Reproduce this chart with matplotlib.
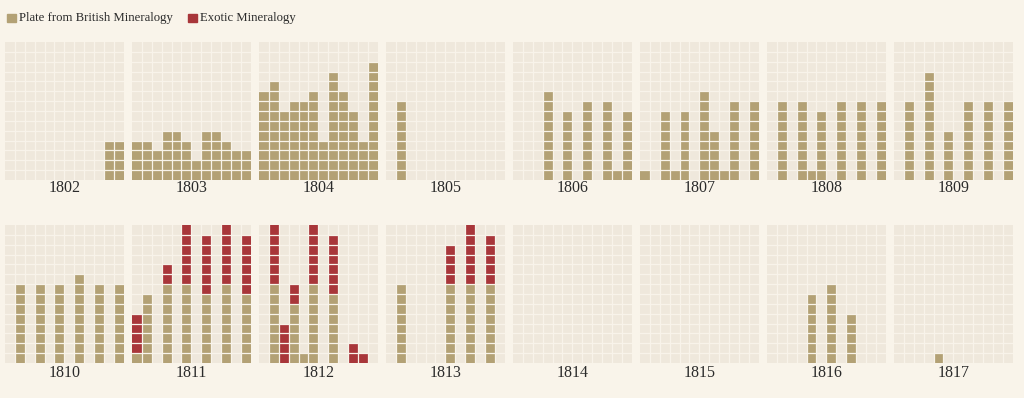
import matplotlib
matplotlib.use("Agg")
import matplotlib.pyplot as plt
from matplotlib.patches import Rectangle

years = list(range(1802, 1818))
months = list(range(12))

british_counts = [
    [0, 0, 0, 0, 0, 0, 0, 0, 0, 0, 4, 4],      # 1802
    [4, 4, 3, 5, 5, 4, 2, 5, 5, 4, 3, 3],      # 1803
    [9, 10, 7, 8, 8, 9, 4, 11, 9, 7, 4, 12],   # 1804
    [0, 8, 0, 0, 0, 0, 0, 0, 0, 0, 0, 0],      # 1805
    [0, 0, 0, 9, 0, 7, 0, 8, 0, 8, 1, 7],      # 1806
    [1, 0, 7, 1, 7, 0, 9, 5, 1, 8, 0, 8],      # 1807
    [0, 8, 0, 8, 1, 7, 0, 8, 0, 8, 0, 8],      # 1808
    [0, 8, 0, 11, 0, 5, 0, 8, 0, 8, 0, 8],     # 1809
    [0, 8, 0, 8, 0, 8, 0, 9, 0, 8, 0, 8],      # 1810
    [1, 7, 0, 8, 0, 8, 0, 7, 0, 8, 0, 7],      # 1811
    [0, 8, 0, 6, 1, 8, 0, 7, 0, 0, 0, 0],      # 1812
    [0, 8, 0, 0, 0, 0, 8, 0, 8, 0, 8, 0],      # 1813
    [0, 0, 0, 0, 0, 0, 0, 0, 0, 0, 0, 0],      # 1814
    [0, 0, 0, 0, 0, 0, 0, 0, 0, 0, 0, 0],      # 1815
    [0, 0, 0, 0, 7, 0, 8, 0, 5, 0, 0, 0],      # 1816
    [0, 0, 0, 0, 1, 0, 0, 0, 0, 0, 0, 0],      # 1817
]

exotic_counts = [
    [0] * 12,                                   # 1802
    [0] * 12,                                   # 1803
    [0] * 12,                                   # 1804
    [0] * 12,                                   # 1805
    [0] * 12,                                   # 1806
    [0] * 12,                                   # 1807
    [0] * 12,                                   # 1808
    [0] * 12,                                   # 1809
    [0] * 12,                                   # 1810
    [4, 0, 0, 2, 0, 6, 0, 6, 0, 6, 0, 6],      # 1811
    [0, 6, 4, 2, 0, 6, 0, 6, 0, 2, 1, 0],      # 1812
    [0, 0, 0, 0, 0, 0, 4, 0, 6, 0, 5, 0],      # 1813
    [0] * 12,                                   # 1814
    [0] * 12,                                   # 1815
    [0] * 12,                                   # 1816
    [0] * 12,                                   # 1817
]

legend_labels = ["Plate from British Mineralogy", "Exotic Mineralogy"]

# styling
PAGE_BG = "#f9f4ea"
PANEL_BG = "#efe8dc"
GRID = "#f8f3ea"
TAN = "#b3a175"
RED = "#a8363a"
TEXT = "#2b2b2b"
FONT = ["Liberation Serif", "DejaVu Serif"]

W, H = 1024, 398
fig = plt.figure(figsize=(W / 100, H / 100), dpi=100, facecolor=PAGE_BG)

n_rows_cells = 14
panel_w = 118.5
panel_h = 138
row_tops = [42, 225]
label_y = [188, 373]

for i, year in enumerate(years):
    r, c = divmod(i, 8)
    left = 5 + 127 * c
    top = row_tops[r]
    ax = fig.add_axes([left / W, 1 - (top + panel_h) / H, panel_w / W, panel_h / H])
    ax.set_facecolor(PANEL_BG)
    b = british_counts[i]
    e = exotic_counts[i]
    ax.bar(months, b, width=1.0, align="edge", color=TAN, linewidth=0, zorder=2)
    ax.bar(months, e, bottom=b, width=1.0, align="edge", color=RED, linewidth=0, zorder=2)
    for k in range(1, 12):
        ax.axvline(k, color=GRID, lw=0.9, zorder=3)
    for k in range(1, n_rows_cells):
        ax.axhline(k, color=GRID, lw=0.9, zorder=3)
    ax.set_xlim(0, 12)
    ax.set_ylim(0, n_rows_cells)
    ax.set_xticks([])
    ax.set_yticks([])
    for s in ax.spines.values():
        s.set_visible(False)
    fig.text((left + panel_w / 2) / W, 1 - label_y[r] / H, str(year),
             ha="center", va="center", fontsize=11.5, color=TEXT, family=FONT)

# legend
leg_items = [(7, legend_labels[0], TAN), (188, legend_labels[1], RED)]
for x0, lab, col in leg_items:
    fig.patches.append(Rectangle((x0 / W, 1 - 22 / H), 8.5 / W, 8.5 / H,
                                 transform=fig.transFigure, color=col, figure=fig))
    fig.text((x0 + 12) / W, 1 - 17.5 / H, lab, ha="left", va="center",
             fontsize=9.2, color=TEXT, family=FONT)

fig.savefig("out.png", dpi=100, facecolor=PAGE_BG)
